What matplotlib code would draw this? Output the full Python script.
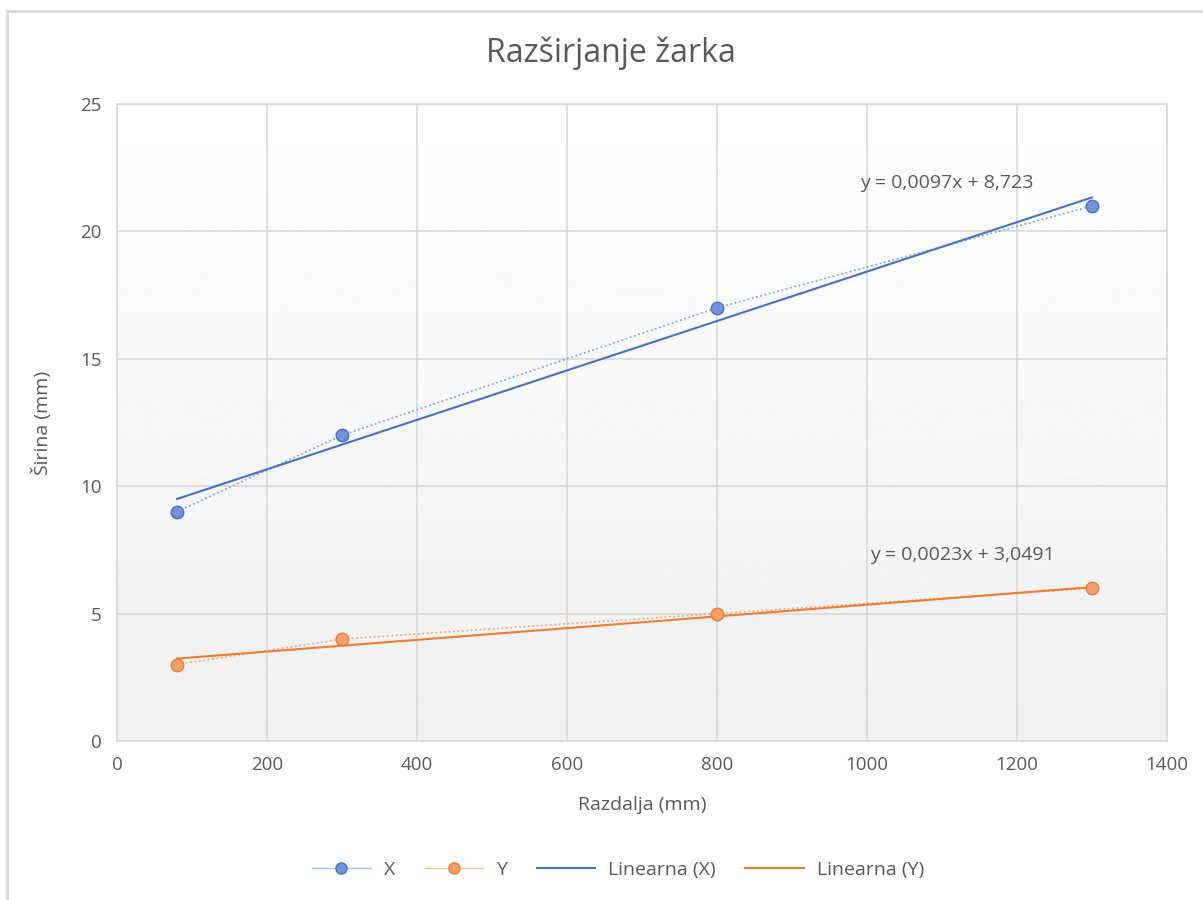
import numpy as np
import matplotlib.pyplot as plt
from matplotlib.lines import Line2D

plt.rcParams['font.family'] = ['Open Sans', 'DejaVu Sans']

# measurements ---------------------------------------------------
razdalja = [80, 300, 800, 1300]
sirina_x = [9, 12, 17, 21]
sirina_y = [3, 4, 5, 6]

# linear fits as shown on the chart
fit_x = (0.0097, 8.723)
fit_y = (0.0023, 3.0491)
label_x = 'y = 0,0097x + 8,723'
label_y = 'y = 0,0023x + 3,0491'

blue = '#4472C4'
orange = '#ED7D31'
grey_txt = '#595959'
grid_c = '#d9d9d9'

fig = plt.figure(figsize=(12.03, 9), dpi=100)
ax = fig.add_axes([0.0973, 0.1767, 0.8727, 0.7077])

# outer chart frame (top and left edges only)
fig.add_artist(Line2D([7/1203, 1], [1-11/900, 1-11/900], color=grid_c, lw=2))
fig.add_artist(Line2D([7/1203, 7/1203], [0, 1-11/900], color=grid_c, lw=2))

# soft vertical gradient behind the plot area
grad = np.linspace(1.0, 0.94, 256).reshape(-1, 1)
ax.imshow(grad, extent=[0, 1, 0, 1], transform=ax.transAxes, cmap='gray',
          vmin=0, vmax=1, aspect='auto', zorder=0)

xs = np.array([razdalja[0], razdalja[-1]])

ax.plot(razdalja, sirina_x, ':', color=blue, lw=1.2, alpha=0.7, zorder=3)
ax.plot(razdalja, sirina_y, ':', color=orange, lw=1.2, alpha=0.7, zorder=3)
ax.plot(xs, fit_x[0]*xs + fit_x[1], '-', color=blue, lw=1.5, zorder=4)
ax.plot(xs, fit_y[0]*xs + fit_y[1], '-', color=orange, lw=1.5, zorder=4)
ax.plot(razdalja, sirina_x, 'o', ms=9, mfc='#7092d6', mec=blue, mew=1, zorder=5)
ax.plot(razdalja, sirina_y, 'o', ms=9, mfc='#f4a06c', mec=orange, mew=1, zorder=5)

ax.text(991, 21.9, label_x, fontsize=14, color=grey_txt, va='center', ha='left')
ax.text(1004, 7.3, label_y, fontsize=14, color=grey_txt, va='center', ha='left')

ax.set_xlim(0, 1400)
ax.set_ylim(0, 25)
ax.set_xticks(np.arange(0, 1401, 200))
ax.set_yticks(np.arange(0, 26, 5))
ax.grid(True, color=grid_c, lw=1.2, zorder=1)
ax.set_axisbelow(True)
for s in ax.spines.values():
    s.set_color(grid_c)
    s.set_linewidth(1.2)
ax.tick_params(length=0, labelsize=13.5, labelcolor=grey_txt, pad=11)

ax.set_xlabel('Razdalja (mm)', fontsize=14, color=grey_txt, labelpad=16)
ax.set_ylabel('Širina (mm)', fontsize=14, color=grey_txt, labelpad=20)
fig.text(0.508, 1-53/900, 'Razširjanje žarka', fontsize=23, color=grey_txt,
         ha='center', va='center')

handles = [
    Line2D([], [], color='#a9bde6', lw=1, marker='o', ms=8, mfc='#7092d6', mec=blue),
    Line2D([], [], color='#f6c2a0', lw=1, marker='o', ms=8, mfc='#f4a06c', mec=orange),
    Line2D([], [], color=blue, lw=1.5),
    Line2D([], [], color=orange, lw=1.5),
]
fig.legend(handles, ['X', 'Y', 'Linearna (X)', 'Linearna (Y)'], loc='center',
           bbox_to_anchor=(0.514, 1-870/900), ncol=4, frameon=False,
           fontsize=14, labelcolor=grey_txt, handlelength=3.0, columnspacing=1.5,
           handletextpad=0.7)

fig.savefig('out.png', dpi=100)
